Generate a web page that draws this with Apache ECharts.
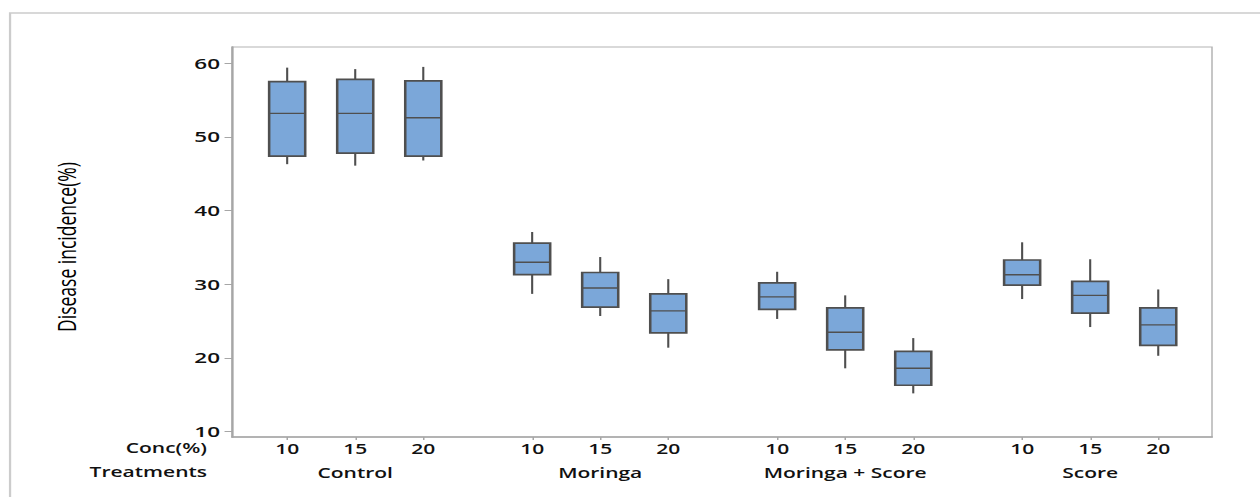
<!DOCTYPE html>
<html>
<head>
<meta charset="utf-8">
<script src="https://cdn.jsdelivr.net/npm/echarts@6/dist/echarts.min.js"></script>
<style>
  html, body { margin: 0; padding: 0; background: #ffffff; overflow: hidden; }
  /* The figure is drawn on a narrower canvas and widened horizontally */
  #chart { width: 840px; height: 497px; transform: scaleX(1.5); transform-origin: 0 0; }
</style>
</head>
<body>
<div id="chart"></div>
<script>
// Treatment groups and concentration levels
const treatments = ['Control', 'Moringa', 'Moringa + Score', 'Score'];
const concLabels = ['10', '15', '20', '10', '15', '20', '10', '15', '20', '10', '15', '20'];

// Positions of each box on the x scale (groups separated by a gap)
const boxPositions = [1, 2, 3, 4.6, 5.6, 6.6, 8.2, 9.2, 10.2, 11.8, 12.8, 13.8];
const groupCenters = [2, 5.6, 9.2, 12.8];

// Box statistics: disease incidence (%)
const whiskerLow  = [46.3, 46.1, 46.8, 28.7, 25.7, 21.4, 25.3, 18.6, 15.2, 28.0, 24.2, 20.3];
const quartile1   = [47.4, 47.8, 47.4, 31.3, 26.9, 23.4, 26.6, 21.1, 16.3, 29.9, 26.1, 21.7];
const medians     = [53.2, 53.2, 52.6, 33.0, 29.5, 26.4, 28.3, 23.5, 18.6, 31.3, 28.5, 24.5];
const quartile3   = [57.5, 57.8, 57.6, 35.6, 31.6, 28.7, 30.2, 26.8, 20.9, 33.3, 30.4, 26.8];
const whiskerHigh = [59.4, 59.2, 59.5, 37.1, 33.7, 30.7, 31.7, 28.5, 22.7, 35.7, 33.4, 29.3];

// Y-axis tick labels
const yTicks = [10, 20, 30, 40, 50, 60];

const boxRows = boxPositions.map((x, i) =>
  [x, whiskerLow[i], quartile1[i], medians[i], quartile3[i], whiskerHigh[i]]);

const FONT = 'Open Sans';
const WEIGHT = 600;
const BOX_FILL = '#7ba7d9';
const BOX_EDGE = '#4f4f4f';
const BOX_SPAN = 0.53; // box width in x-scale units

function labelAt(list, positions) {
  return function (v) {
    const i = positions.findIndex(p => Math.abs(p - v) < 1e-6);
    return i >= 0 ? list[i] : '';
  };
}

const chart = echarts.init(document.getElementById('chart'), null, { renderer: 'svg' });

chart.setOption({
  animation: false,
  backgroundColor: '#ffffff',
  grid: {
    left: 154.7, right: 32, top: 47, bottom: 60,
    show: true, borderColor: '#b4b4b4', borderWidth: 1, backgroundColor: 'transparent'
  },
  xAxis: [
    {
      type: 'value', min: 0.19, max: 14.59,
      axisLine: { show: true, onZero: false, lineStyle: { color: '#a6a6a6', width: 1.5 } },
      axisTick: { show: true, length: 3, customValues: boxPositions, lineStyle: { color: '#a6a6a6', width: 1 } },
      axisLabel: {
        customValues: boxPositions, formatter: labelAt(concLabels, boxPositions),
        margin: 4, lineHeight: 14, color: '#111', fontFamily: FONT, fontWeight: WEIGHT, fontSize: 14
      },
      splitLine: { show: false }
    },
    {
      type: 'value', min: 0.19, max: 14.59, position: 'bottom', offset: 24,
      axisLine: { show: false }, axisTick: { show: false },
      axisLabel: {
        customValues: groupCenters, formatter: labelAt(treatments, groupCenters),
        margin: 4, lineHeight: 14, color: '#111', fontFamily: FONT, fontWeight: WEIGHT, fontSize: 14
      },
      splitLine: { show: false }
    }
  ],
  yAxis: {
    type: 'value', min: 9.28, max: 62.2,
    axisLine: { show: true, onZero: false, lineStyle: { color: '#a6a6a6', width: 1.5 } },
    axisTick: { show: true, length: 5, customValues: yTicks, lineStyle: { color: '#a6a6a6', width: 1 } },
    axisLabel: {
      customValues: yTicks, margin: 8, lineHeight: 13, color: '#111',
      fontFamily: FONT, fontWeight: WEIGHT, fontSize: 15
    },
    splitLine: { show: false }
  },
  graphic: [
    // outer figure frame
    {
      type: 'rect', silent: true, z: -10,
      shape: { x: 6.7, y: 13, width: 900, height: 600 },
      style: { fill: 'none', stroke: '#cccccc', lineWidth: 1.5 }
    },
    {
      type: 'text', x: 138, y: 448,
      style: { text: 'Conc(%)', align: 'right', verticalAlign: 'middle', lineHeight: 13,
               fontFamily: FONT, fontWeight: WEIGHT, fontSize: 14, fill: '#111' }
    },
    {
      type: 'text', x: 138, y: 472,
      style: { text: 'Treatments', align: 'right', verticalAlign: 'middle', lineHeight: 13,
               fontFamily: FONT, fontWeight: WEIGHT, fontSize: 14, fill: '#111' }
    },
    {
      type: 'text', x: 44, y: 247, rotation: Math.PI / 2,
      style: { text: 'Disease incidence(%)', align: 'center', verticalAlign: 'middle',
               fontFamily: FONT, fontSize: 17.5, fill: '#000' }
    }
  ],
  series: [{
    type: 'custom',
    xAxisIndex: 0,
    data: boxRows,
    encode: { x: 0, y: [1, 2, 3, 4, 5] },
    renderItem: function (params, api) {
      const x = api.value(0);
      const lo = api.coord([x, api.value(1)]);
      const q1 = api.coord([x, api.value(2)]);
      const md = api.coord([x, api.value(3)]);
      const q3 = api.coord([x, api.value(4)]);
      const hi = api.coord([x, api.value(5)]);
      const half = api.size([BOX_SPAN, 0])[0] / 2;
      const cx = q1[0];
      const lineStyle = { stroke: BOX_EDGE, lineWidth: 1.4 };
      return {
        type: 'group',
        children: [
          { type: 'line', shape: { x1: cx, y1: lo[1], x2: cx, y2: q1[1] }, style: lineStyle },
          { type: 'line', shape: { x1: cx, y1: q3[1], x2: cx, y2: hi[1] }, style: lineStyle },
          {
            type: 'rect',
            shape: { x: cx - half, y: q3[1], width: 2 * half, height: q1[1] - q3[1] },
            style: { fill: BOX_FILL, stroke: BOX_EDGE, lineWidth: 1.7 }
          },
          { type: 'line', shape: { x1: cx - half, y1: md[1], x2: cx + half, y2: md[1] },
            style: { stroke: BOX_EDGE, lineWidth: 1.4 } }
        ]
      };
    }
  }]
});
</script>
</body>
</html>
